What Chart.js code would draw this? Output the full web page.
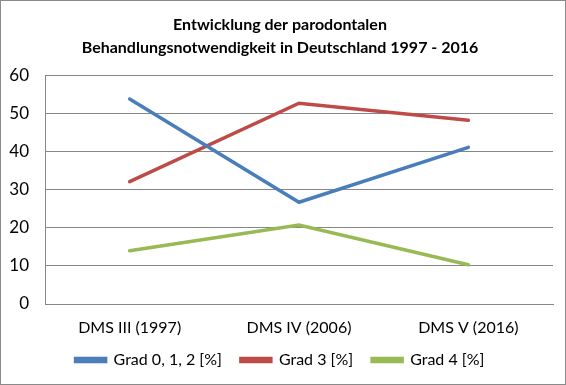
<!DOCTYPE html>
<html>
<head>
<meta charset="utf-8">
<script src="https://cdn.jsdelivr.net/npm/chart.js@4/dist/chart.umd.min.js"></script>
<style>
html,body{margin:0;padding:0;background:#fff;}
#wrap{width:566px;height:385px;box-sizing:border-box;border:1px solid #8a8a8a;position:relative;}
canvas{display:block;}
</style>
</head>
<body>
<div id="wrap"><canvas id="c"></canvas></div>
<script>
const categories = ["DMS III (1997)", "DMS IV (2006)", "DMS V (2016)"];
const grad012 = [53.8, 26.7, 41.1];
const grad3 = [32.1, 52.7, 48.2];
const grad4 = [14.0, 20.7, 10.3];
const seriesNames = ["Grad 0, 1, 2 [%]", "Grad 3 [%]", "Grad 4 [%]"];
const titleLines = ["Entwicklung der parodontalen", "Behandlungsnotwendigkeit in Deutschland 1997 - 2016"];
const yMin = 0, yMax = 60, yStep = 10;

const FONT = "Lato, 'Open Sans', sans-serif";
new Chart(document.getElementById('c'), {
  type: 'line',
  data: {
    labels: categories,
    datasets: [
      {label: seriesNames[0], data: grad012, borderColor: '#4a7ebb', backgroundColor: '#4a7ebb'},
      {label: seriesNames[1], data: grad3, borderColor: '#be4b48', backgroundColor: '#be4b48'},
      {label: seriesNames[2], data: grad4, borderColor: '#98b954', backgroundColor: '#98b954'}
    ].map(d => Object.assign(d, {borderWidth: 3.5, pointRadius: 0, tension: 0, borderCapStyle: 'round'}))
  },
  options: {
    responsive: true,
    maintainAspectRatio: false,
    animation: false,
    layout: {padding: {left: 6, right: 12, top: 4, bottom: 6}},
    plugins: {
      title: {display: true, text: titleLines, color: '#000', font: {family: FONT, size: 16, weight: 'bold', lineHeight: 1.45}, padding: {top: 8, bottom: 16}},
      legend: {position: 'bottom', maxHeight: 50, labels: {color: '#000', font: {family: FONT, size: 16}, boxWidth: 30, boxHeight: 3, padding: 19}},
      tooltip: {enabled: false}
    },
    scales: {
      x: {
        offset: true,
        grid: {display: false, drawTicks: false},
        border: {display: true, color: '#868686', width: 1},
        ticks: {color: '#000', font: {family: FONT, size: 16}, padding: 14},
        afterFit: s => { s.height = 29; s._computeLabelArea = () => undefined; }
      },
      y: {
        min: yMin, max: yMax,
        ticks: {stepSize: yStep, color: '#000', font: {family: FONT, size: 17}, padding: 16},
        grid: {color: '#868686', lineWidth: 1, drawTicks: false},
        border: {display: true, color: '#868686', width: 1},
        afterFit: s => { s.width = 38; }
      }
    }
  }
});
</script>
</body>
</html>
